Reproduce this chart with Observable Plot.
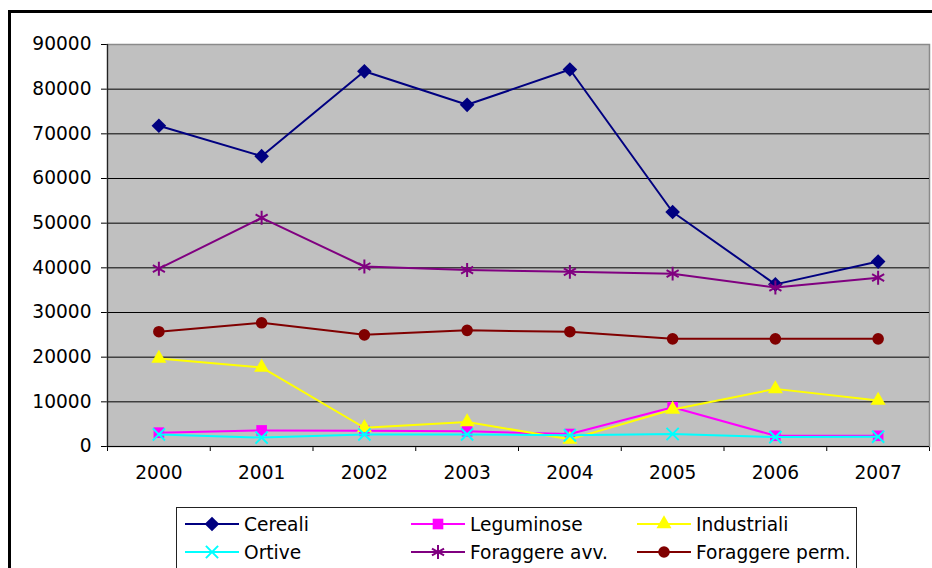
<!DOCTYPE html>
<html><head><meta charset="utf-8">
<script src="https://cdn.jsdelivr.net/npm/d3@7"></script>
<script src="https://cdn.jsdelivr.net/npm/@observablehq/plot@0.6"></script>
<style>
body{margin:0;background:#fff;font-family:"DejaVu Sans",sans-serif;}
#wrap{position:relative;width:932px;height:568px;overflow:hidden;background:#fff;}
#frame{position:absolute;left:8px;top:10px;width:1000px;height:1000px;border-left:3px solid #000;border-top:3px solid #000;}
#chart{position:absolute;left:0;top:0;}
#legend{position:absolute;left:176px;top:507px;width:679px;height:80px;border:1px solid #222;background:#fff;}
</style></head>
<body><div id="wrap"><div id="frame"></div><div id="chart"></div><div id="legend"></div></div>
<script>
const years = [2000, 2001, 2002, 2003, 2004, 2005, 2006, 2007];
const seriesNames = ["Cereali", "Leguminose", "Industriali", "Ortive", "Foraggere avv.", "Foraggere perm."];
const cereali        = [71800, 65000, 84000, 76500, 84400, 52500, 36300, 41400];
const leguminose     = [3100, 3600, 3500, 3400, 2800, 8800, 2400, 2400];
const industriali    = [19700, 17700, 4200, 5500, 1600, 8300, 12900, 10300];
const ortive         = [2700, 2000, 2700, 2700, 2500, 2800, 2100, 2200];
const foraggereAvv   = [39800, 51200, 40300, 39500, 39100, 38700, 35600, 37800];
const foraggerePerm  = [25700, 27700, 25000, 26000, 25700, 24100, 24100, 24100];
const yTicks = [0, 10000, 20000, 30000, 40000, 50000, 60000, 70000, 80000, 90000];

const seriesValues = [cereali, leguminose, industriali, ortive, foraggereAvv, foraggerePerm];
const colors = ["#000080", "#FF00FF", "#FFFF00", "#00FFFF", "#800080", "#800000"];
const symbols = ["diamond2", "square", "triangle", "times", "asterisk", "circle"];
const radii = [6.6, 6, 5.6, 5.6, 6.6, 5.8];
const stroked = [false, false, false, true, true, false];

const data = [];
seriesNames.forEach((s, i) => years.forEach((y, j) => data.push({series: s, idx: i, year: y, value: seriesValues[i][j]})));
const xBounds = d3.range(0, years.length + 1).map(i => years[0] - 0.5 + i);

const marks = [
  Plot.frame({fill: "#C0C0C0", stroke: "#8a8a8a", strokeWidth: 1.5}),
  Plot.ruleY(yTicks.filter(t => t > 0 && t < 90000), {stroke: "#000", strokeWidth: 1}),
  Plot.ruleY([0], {stroke: "#000", strokeWidth: 1.2}),
  Plot.ruleX([xBounds[0]], {stroke: "#222", strokeWidth: 1.2}),
  Plot.text(years, {x: d => d, y: () => 0, text: d => String(d), dy: 19, lineAnchor: "top", fontSize: 18.6, fill: "#000"})
];
seriesNames.forEach((s, i) => {
  const d = data.filter(r => r.idx === i);
  marks.push(Plot.line(d, {x: "year", y: "value", stroke: colors[i], strokeWidth: 2}));
  if (stroked[i]) {
    marks.push(Plot.dot(d, {x: "year", y: "value", symbol: () => symbols[i], r: radii[i], stroke: colors[i], strokeWidth: 2, fill: "none"}));
  } else {
    marks.push(Plot.dot(d, {x: "year", y: "value", symbol: () => symbols[i], r: radii[i], fill: colors[i], stroke: "none"}));
  }
});

const chart = Plot.plot({
  width: 932, height: 568,
  marginLeft: 107, marginRight: 3, marginTop: 44, marginBottom: 122,
  style: {fontFamily: "DejaVu Sans, sans-serif", fontSize: "18.6px", background: "transparent", color: "#000", overflow: "visible"},
  x: {domain: [xBounds[0], xBounds[xBounds.length - 1]], ticks: xBounds, tickSize: 5, tickFormat: () => "", label: null},
  y: {domain: [0, 90000], ticks: yTicks, tickSize: 6, tickPadding: 10, tickFormat: d3.format("d"), label: null},
  symbol: {type: "identity"},
  marks
});
document.getElementById("chart").appendChild(chart);

// Legend
const lg = d3.select("#legend").append("svg").attr("width", 679).attr("height", 80)
  .style("font-family", "DejaVu Sans, sans-serif").style("font-size", "18.6px");
const symMap = {diamond2: d3.symbolDiamond2, square: d3.symbolSquare, triangle: d3.symbolTriangle, times: d3.symbolTimes, asterisk: d3.symbolAsterisk, circle: d3.symbolCircle};
seriesNames.forEach((s, i) => {
  const col = i % 3, row = Math.floor(i / 3);
  const gx = 8 + col * 226, gy = 16 + row * 28;
  const g = lg.append("g").attr("transform", `translate(${gx},${gy})`);
  g.append("line").attr("x1", 0).attr("x2", 54).attr("y1", 0).attr("y2", 0).attr("stroke", colors[i]).attr("stroke-width", 2);
  const p = g.append("path").attr("transform", "translate(27,0)")
    .attr("d", d3.symbol(symMap[symbols[i]], Math.PI * radii[i] * radii[i])());
  if (stroked[i]) p.attr("fill", "none").attr("stroke", colors[i]).attr("stroke-width", 2);
  else p.attr("fill", colors[i]);
  g.append("text").attr("x", 59).attr("y", 0).attr("dy", "0.35em").attr("fill", "#000").text(s);
});
</script>
</body></html>
